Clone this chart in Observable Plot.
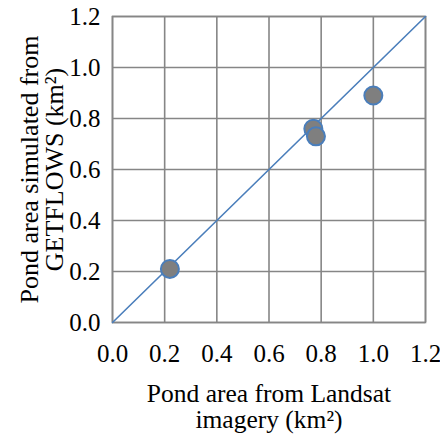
<!DOCTYPE html>
<html>
<head>
<meta charset="utf-8">
<script src="https://cdn.jsdelivr.net/npm/d3@7"></script>
<script src="https://cdn.jsdelivr.net/npm/@observablehq/plot@0.6"></script>
<style>
  html, body { margin: 0; padding: 0; background: #fff; }
</style>
</head>
<body>
<div id="chart"></div>
<script>
const landsat = [0.22, 0.77, 0.78, 1.0];
const getflows = [0.21, 0.76, 0.73, 0.89];
const tickValues = [0, 0.2, 0.4, 0.6, 0.8, 1.0, 1.2];
const oneToOne = [0, 1.2];
const xTitle = "Pond area from Landsat\nimagery (km²)";
const yTitle = "Pond area simulated from\nGETFLOWS (km²)";

const points = landsat.map((x, i) => ({x, y: getflows[i]}));
const fmt = d3.format(".1f");

const chart = Plot.plot({
  width: 440,
  height: 437,
  marginLeft: 112,
  marginRight: 15,
  marginTop: 16,
  marginBottom: 115,
  style: {fontFamily: "'Liberation Serif', 'Times New Roman', serif", fontSize: "25px", color: "#000", background: "#fff"},
  x: {domain: [0, 1.2]},
  y: {domain: [0, 1.2]},
  marks: [
    Plot.gridX(tickValues, {stroke: "#868686", strokeOpacity: 1, strokeWidth: 1.6}),
    Plot.gridY(tickValues, {stroke: "#868686", strokeOpacity: 1, strokeWidth: 1.6}),
    Plot.frame({stroke: "#868686", strokeWidth: 1.6}),
    Plot.axisX({ticks: tickValues, tickFormat: fmt, tickSize: 0, tickPadding: 22, label: null, fontSize: 25}),
    Plot.axisY({ticks: tickValues, tickFormat: fmt, tickSize: 0, tickPadding: 12, label: null, fontSize: 25}),
    Plot.line(oneToOne, {x: d => d, y: d => d, stroke: "#4a7ebb", strokeWidth: 1.6}),
    Plot.dot(points, {x: "x", y: "y", r: 9, fill: "#7f7f7f", stroke: "#4a7ebb", strokeWidth: 2}),
    Plot.text([xTitle], {frameAnchor: "bottom", dy: 84, textAnchor: "middle", lineAnchor: "middle", fontSize: 25.5, lineHeight: 1.04, fill: "#000"}),
    Plot.text([yTitle], {frameAnchor: "left", dx: -70, textAnchor: "middle", lineAnchor: "middle", rotate: -90, fontSize: 26, lineHeight: 0.98, fill: "#000"})
  ]
});
document.getElementById("chart").appendChild(chart);
</script>
</body>
</html>
